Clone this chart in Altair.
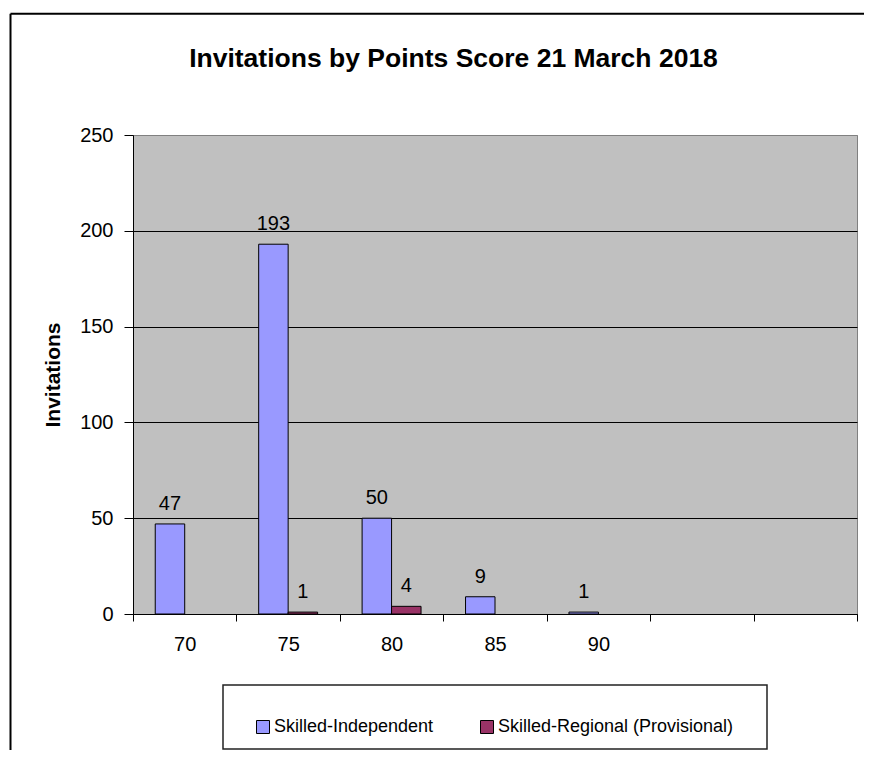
import altair as alt
import pandas as pd

# ---- data ----
scores = ["70", "75", "80", "85", "90"]
blank_slots = [" ", "  "]
series_names = ["Skilled-Independent", "Skilled-Regional (Provisional)"]
skilled_independent = [47, 193, 50, 9, 1]
skilled_regional = [0, 1, 4, 0, 0]
series_colors = ["#9999FF", "#993366"]
y_ticks = [0, 50, 100, 150, 200, 250]
chart_title = "Invitations by Points Score 21 March 2018"

rows = []
for s, a, b in zip(scores, skilled_independent, skilled_regional):
    rows.append({"score": s, "visa": series_names[0], "invitations": a})
    rows.append({"score": s, "visa": series_names[1], "invitations": b})
df = pd.DataFrame(rows)

FONT = "Liberation Sans"
W, H = 724, 479

x_enc = alt.X(
    "score:N",
    scale=alt.Scale(domain=scores + blank_slots, paddingInner=0, paddingOuter=0),
    sort=None,
    axis=alt.Axis(
        title=None, labelAngle=0, tickBand="extent", tickSize=7, tickColor="#000",
        domainColor="#000", labelFont=FONT, labelFontSize=20, labelColor="#000",
        labelPadding=13, grid=False,
    ),
)
xoff_enc = alt.XOffset(
    "visa:N",
    scale=alt.Scale(domain=series_names, paddingInner=0, paddingOuter=0.755),
)
y_enc = alt.Y(
    "invitations:Q",
    scale=alt.Scale(domain=[0, 250], nice=False),
    axis=alt.Axis(
        values=y_ticks, grid=True,
        gridColor={"condition": {"test": "datum.value >= 250", "value": "#808080"}, "value": "#000000"},
        gridWidth=1, tickSize=9, tickColor="#000", domainColor="#000",
        labelFont=FONT, labelFontSize=20, labelColor="#000", labelPadding=11,
        title="Invitations", titleFont=FONT, titleFontSize=21, titleFontWeight="bold",
        titleColor="#000", titleAngle=-90, titleX=-74, titleY=H / 2,
        titleBaseline="alphabetic", titleAlign="center",
    ),
)

base = alt.Chart(df).transform_filter("datum.invitations > 0")

bars = base.mark_bar(stroke="#000", strokeWidth=1, opacity=1).encode(
    x=x_enc,
    xOffset=xoff_enc,
    y=y_enc,
    color=alt.Color(
        "visa:N",
        scale=alt.Scale(domain=series_names, range=series_colors),
        legend=alt.Legend(
            title=None, orient="none", direction="horizontal", legendX=121, legendY=583,
            symbolType="square", symbolSize=169, symbolStrokeColor="#000",
            symbolStrokeWidth=1, symbolOpacity=1, labelFont=FONT, labelFontSize=18,
            labelColor="#000", labelOffset=2, columnPadding=44, labelLimit=400,
            padding=0,
        ),
    ),
)

labels = base.mark_text(
    dy=-14, baseline="alphabetic", font=FONT, fontSize=20, color="#000"
).encode(
    x=x_enc,
    xOffset=xoff_enc,
    y=y_enc,
    text=alt.Text("invitations:Q"),
)

deco = alt.Data(values=[{"k": 1}])
border_top = alt.Chart(deco).mark_rule(stroke="#000", strokeWidth=2).encode(
    x=alt.value(-122.5), x2=alt.value(740), y=alt.value(-121.3)
)
border_left = alt.Chart(deco).mark_rule(stroke="#000", strokeWidth=2).encode(
    x=alt.value(-122.5), y=alt.value(-121.3), y2=alt.value(640)
)
legend_box = alt.Chart(deco).mark_rect(
    filled=False, stroke="#222", strokeWidth=1.5
).encode(
    x=alt.value(90), x2=alt.value(634), y=alt.value(550), y2=alt.value(614)
)
title_text = alt.Chart(deco).mark_text(
    font=FONT, fontSize=26.5, fontWeight="bold", color="#000",
    align="center", baseline="alphabetic",
).encode(
    x=alt.value(320.5), y=alt.value(-68.5), text=alt.value(chart_title)
)

chart = alt.layer(border_top, border_left, legend_box, title_text, bars, labels).properties(
    width=W,
    height=H,
    autosize="none",
    padding={"left": 125, "top": 127, "right": 7, "bottom": 136},
    background="white",
).configure_view(
    fill="#C0C0C0", stroke="#808080", strokeWidth=1
)

chart.save("out.html", embed_options={"renderer": "svg", "actions": False})
